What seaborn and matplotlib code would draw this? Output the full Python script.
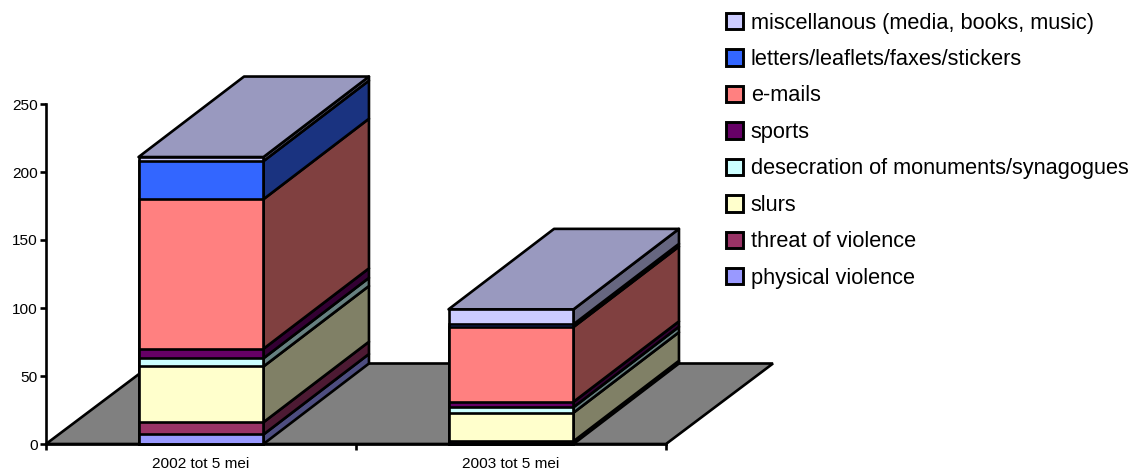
import numpy as np
import matplotlib
matplotlib.use("Agg")
import matplotlib.pyplot as plt
from matplotlib.patches import Patch
from matplotlib.colors import to_rgb
import seaborn as sns

# Incident counts per period, stacked from the floor upwards
periods = ["2002 tot 5 mei", "2003 tot 5 mei"]
physical_violence = [7, 1]
threat_of_violence = [9, 1]
slurs = [41, 21]
desecration = [6, 4]
sports = [7, 4]
emails = [110, 55]
letters = [28, 2]
miscellaneous = [3, 11]

series_labels = ["physical violence", "threat of violence", "slurs",
                 "desecration of monuments/synagogues", "sports", "e-mails",
                 "letters/leaflets/faxes/stickers",
                 "miscellanous (media, books, music)"]
series_values = [physical_violence, threat_of_violence, slurs, desecration,
                 sports, emails, letters, miscellaneous]
series_colors = ["#9999FF", "#993366", "#FFFFCC", "#CCFFFF",
                 "#660066", "#FF8080", "#3366FF", "#CCCCFF"]
y_ticks = [0, 50, 100, 150, 200, 250]

sns.set_theme(style="white")
plt.rcParams["font.family"] = ["Liberation Sans", "DejaVu Sans"]

W, H = 1133, 472
fig = plt.figure(figsize=(W / 100, H / 100), dpi=100)
ax = fig.add_axes([46 / W, (H - 444) / H, (773 - 46) / W, (444 - 50) / H])

BAR_WIDTH = 0.403
FLOOR_DX = 107 / 310  # receding offset of the floor, in category units
BAR_DX = 105.5 / 310  # receding offset of the stacks
DEPTH_Y = 80.5 / 1.36  # receding offset, in count units
LW = 1.9
FLOOR = "#808080"


def shade(color, factor):
    return tuple(c * factor for c in to_rgb(color))


cumulative = np.cumsum(np.array(series_values, dtype=float), axis=0)

# Front faces: tallest stack first so each lower band paints over it
for level in range(len(series_labels) - 1, -1, -1):
    sns.barplot(x=periods, y=cumulative[level], order=periods,
                color=series_colors[level], saturation=1, width=BAR_WIDTH,
                edgecolor="black", linewidth=LW, zorder=3, ax=ax, clip_on=False)

ax.set_xlim(-0.5, 1.5 + FLOOR_DX)
ax.set_ylim(0, (444 - 50) / 1.36)

# Floor of the pseudo-3D box
ax.fill([-0.5, 1.5, 1.5 + FLOOR_DX, -0.5 + FLOOR_DX],
        [0, 0, DEPTH_Y, DEPTH_Y],
        facecolor=FLOOR, edgecolor="black", linewidth=LW, zorder=1, clip_on=False)

# Side and top faces of each stack
for i in range(len(periods)):
    right = i + BAR_WIDTH / 2
    left = i - BAR_WIDTH / 2
    lower = 0.0
    for level, color in enumerate(series_colors):
        upper = cumulative[level][i]
        ax.fill([right, right + BAR_DX, right + BAR_DX, right],
                [lower, lower + DEPTH_Y, upper + DEPTH_Y, upper],
                facecolor=shade(color, 0.5), edgecolor="black", linewidth=LW,
                joinstyle="round", zorder=2, clip_on=False)
        lower = upper
    ax.fill([left, right, right + BAR_DX, left + BAR_DX],
            [lower, lower, lower + DEPTH_Y, lower + DEPTH_Y],
            facecolor=shade(series_colors[-1], 0.75), edgecolor="black",
            linewidth=LW, joinstyle="round", zorder=2, clip_on=False)

# Axes: spines only along the front of the box
for side in ("top", "right"):
    ax.spines[side].set_visible(False)
ax.spines["left"].set_bounds(0, 250)
ax.spines["bottom"].set_bounds(-0.5, 1.5)
for side in ("left", "bottom"):
    ax.spines[side].set_color("black")
    ax.spines[side].set_linewidth(LW)
    ax.spines[side].set_zorder(4)

ax.set_yticks(y_ticks)
ax.set_xticks([-0.5, 0.5, 1.5])
ax.set_xticklabels([])
ax.set_xticks([0, 1], labels=periods, minor=True)
ax.tick_params(axis="both", which="major", length=4.5, width=LW, color="black",
               left=True, bottom=True, labelsize=11.1, labelcolor="black", pad=1.5)
ax.tick_params(axis="x", which="minor", length=0, bottom=False,
               labelsize=11.1, labelcolor="black", pad=9.5)
ax.set_xlabel("")
ax.set_ylabel("")
ax.patch.set_alpha(0)
ax.grid(False)

# Legend lists the stack from top to bottom
handles = [Patch(facecolor=c, edgecolor="black", linewidth=LW + 0.2, label=l)
           for c, l in zip(series_colors[::-1], series_labels[::-1])]
fig.legend(handles=handles, loc="upper left",
           bbox_to_anchor=(726 / W, 1 - 12.5 / H), frameon=False,
           fontsize=15.7, labelcolor="black", handlelength=0.78, handleheight=0.78,
           handletextpad=0.36, labelspacing=0.71, borderpad=0, borderaxespad=0)

fig.savefig("out.png", dpi=100, facecolor="white")
